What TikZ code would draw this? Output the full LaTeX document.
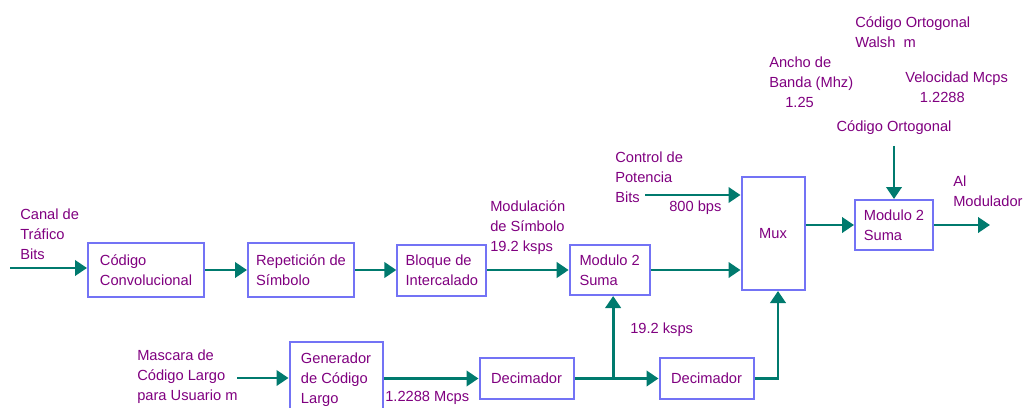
\documentclass[tikz,border=0pt]{standalone}
\usepackage{fontspec}
\setmainfont{Liberation Sans}
\usetikzlibrary{arrows.meta, positioning}
\definecolor{flowteal}{RGB}{0,122,110}
\definecolor{labelpurple}{RGB}{128,0,128}
\definecolor{boxblue}{RGB}{115,115,245}

\begin{document}
\begin{tikzpicture}[
  x=0.75pt, y=-0.75pt,
  every node/.style={font=\fontsize{11}{15}\selectfont, text=labelpurple},
  blk/.style 2 args={rectangle, draw=boxblue, line width=1.5pt, fill=white,
              align=left, inner sep=0pt, minimum width=#1, minimum height=#2},
  lbl/.style={align=left, inner sep=0pt, anchor=west},
  arr/.style={-{Triangle[length=9pt,width=11.5pt]}, line width=2.2pt, color=flowteal}
]
\useasboundingbox (0,0) rectangle (1024,407);

% upper row
\node[blk={87pt}{40.5pt}] (conv) at (146,270) {Código\\Convolucional};
\node[blk={79.5pt}{40.5pt}, right=31.5pt of conv] (rep) {Repetición de\\Símbolo};
\node[blk={66.75pt}{38.25pt}, right=31pt of rep] (bloq) {Bloque de\\Intercalado};
\node[blk={60pt}{37.5pt}, right=61pt of bloq] (mod1) {Modulo 2\\Suma};
\node[blk={47.25pt}{84.75pt}] (mux) at (773,233.5) {Mux};
\node[blk={58.5pt}{37.5pt}] (mod2) at (894,225) {Modulo 2\\Suma};

% lower row
\node[blk={69.75pt}{56.25pt}] (gen) at (336,379.5) {Generador\\de Código\\Largo};
\node[blk={70.5pt}{30.75pt}] (dec1) at (526.5,378.5) {Decimador};
\node[blk={70.5pt}{30.75pt}, right=63pt of dec1] (dec2) {Decimador};

% labels
\node[lbl] (canal) at (20,234) {Canal de\\Tráfico\\Bits};
\node[lbl] (modsim) at (490,228) {Modulación\\de Símbolo\\19.2 ksps};
\node[lbl] (ctrl) at (615,177) {Control de\\Potencia\\Bits};
\node[lbl] (bps) at (669,208) {800 bps};
\node[lbl] (almod) at (953,191) {Al\\Modulador};
\node[inner sep=0pt] (codort) at (894,128) {Código Ortogonal};
\node[lbl] (ancho) at (769,82) {Ancho de\\Banda (Mhz)\\\hspace*{12pt}1.25};
\node[lbl] (veloc) at (905,87) {Velocidad Mcps\\\hspace*{11pt}1.2288};
\node[lbl] (walsh) at (855,32) {Código Ortogonal\\Walsh\ \ m};
\node[lbl] (mascara) at (137,377) {Mascara de\\Código Largo\\para Usuario m};
\node[lbl] (mcps) at (385,398) {1.2288 Mcps};
\node[lbl] (ksps) at (630,330) {19.2 ksps};

\coordinate (in) at (10,268);
\coordinate (ctrlin) at (645,195);
\coordinate (maskin) at (237,378);
\coordinate (out) at (990,225);

% connectors
\draw[arr] (in) -- (in -| conv.west);
\draw[arr] (conv) -- (rep);
\draw[arr] (rep) -- (bloq);
\draw[arr] (bloq) -- (mod1);
\draw[arr] (mod1) -- (mod1 -| mux.west);
\draw[arr] (ctrlin) -- (ctrlin -| mux.west);
\draw[arr] (mux.east |- mod2) -- (mod2);
\draw[arr, shorten <=8pt] (codort) -- (mod2);
\draw[arr] (mod2) -- (out);
\draw[arr] (maskin) -- (maskin -| gen.west);
\draw[arr] (gen.east |- dec1.west) -- (dec1.west);
\draw[arr] (dec1) -- (dec2);
\draw[arr] ([xshift=2.6pt]mod1.south |- dec1.east) -- ([xshift=2.6pt]mod1.south);
\draw[arr] (dec2.east) -| ([xshift=3.75pt]mux.south);

\end{tikzpicture}
\end{document}
